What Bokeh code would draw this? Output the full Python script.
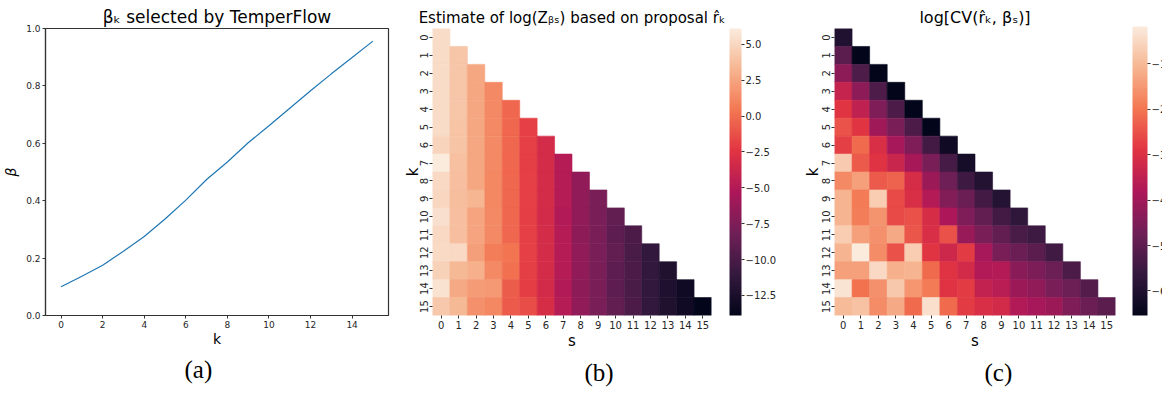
import math

from bokeh.embed import file_html
from bokeh.layouts import row
from bokeh.models import (AllLabels, ColorBar, ColumnDataSource,
                          CustomJSTickFormatter, FixedTicker,
                          LinearColorMapper, PrintfTickFormatter, Range1d,
                          Title)
from bokeh.plotting import figure
from bokeh.resources import INLINE

# ---------------------------------------------------------------- data
k_index = list(range(16))
beta_selected = [0.100, 0.137, 0.175, 0.224, 0.275, 0.336, 0.402, 0.474,
                 0.535, 0.602, 0.661, 0.722, 0.783, 0.842, 0.899, 0.956]

grid_ticks = list(range(16))

# log(Z_beta_s) estimated with proposal r_k  (row k, columns s = 0..k)
log_z_rows = [
    [5.3],
    [5.3, 4.1],
    [5.3, 4.1, 2.6],
    [5.3, 4.1, 2.6, 1.3],
    [5.3, 4.1, 2.6, 1.3, -0.3],
    [5.3, 4.0, 2.6, 1.3, -0.3, -1.9],
    [4.9, 4.0, 2.6, 1.3, -0.3, -1.9, -3.2],
    [6.1, 3.9, 2.6, 1.3, -0.3, -2.0, -3.2, -4.9],
    [5.1, 3.8, 2.6, 1.2, -0.3, -1.9, -3.2, -4.9, -6.7],
    [5.0, 3.7, 3.3, 1.2, -0.3, -1.9, -3.2, -4.9, -6.7, -7.7],
    [5.5, 3.8, 2.5, 1.3, -0.3, -2.0, -3.3, -5.0, -6.7, -7.8, -8.9],
    [5.1, 3.8, 2.5, 1.3, -0.3, -1.9, -3.2, -4.9, -6.8, -7.7, -9.0, -9.9],
    [5.2, 5.1, 2.2, 0.7, 0.3, -1.9, -3.2, -4.9, -6.7, -7.7, -8.9, -10.0, -11.1],
    [4.7, 3.5, 3.1, 1.3, 0.1, -2.0, -3.2, -4.9, -6.7, -7.8, -9.0, -9.9, -11.1, -12.2],
    [5.6, 2.7, 2.1, 2.0, -0.7, -2.1, -3.3, -5.0, -6.8, -7.8, -9.0, -10.0, -11.2, -12.3, -13.1],
    [4.3, 3.5, 1.6, 1.2, -0.8, -1.4, -3.1, -4.9, -6.7, -7.7, -8.9, -9.9, -11.1, -12.2, -13.1, -13.9],
]

# log CV(r_k, beta_s)  (row k, columns s = 0..k)
log_cv_rows = [
    [-5.97],
    [-5.03, -6.54],
    [-4.28, -5.23, -6.54],
    [-3.39, -4.28, -5.23, -6.54],
    [-2.91, -3.49, -4.51, -5.27, -6.54],
    [-2.47, -2.91, -4.01, -4.56, -5.27, -6.54],
    [-2.74, -2.16, -3.04, -3.93, -4.50, -5.41, -6.27],
    [-0.72, -2.38, -2.95, -3.32, -3.90, -4.57, -5.35, -6.18],
    [-1.71, -1.38, -2.38, -2.26, -3.13, -4.07, -4.77, -5.49, -5.96],
    [-1.09, -1.94, -0.68, -2.60, -3.04, -3.70, -4.45, -4.82, -5.41, -5.90],
    [-1.09, -1.91, -1.56, -2.60, -2.50, -3.10, -3.81, -4.51, -4.94, -5.41, -5.74],
    [-0.68, -1.38, -1.62, -1.26, -2.42, -3.06, -2.50, -4.11, -4.56, -4.94, -5.31, -5.50],
    [-1.09, -0.18, -1.68, -2.50, -0.68, -2.91, -3.27, -2.81, -3.93, -4.56, -4.82, -5.06, -5.45],
    [-1.38, -1.38, -0.48, -1.15, -1.09, -2.15, -2.95, -3.17, -3.74, -3.69, -4.33, -4.54, -4.80, -5.25],
    [-0.31, -2.06, -1.62, -0.76, -1.54, -1.92, -2.95, -2.81, -3.45, -3.63, -4.07, -4.23, -4.56, -4.80, -5.17],
    [-0.98, -0.86, -1.68, -1.26, -2.15, -0.38, -2.15, -2.81, -3.06, -3.17, -3.74, -3.93, -4.07, -4.50, -4.82, -5.06],
]

log_z_bar_ticks = [-12.5, -10.0, -7.5, -5.0, -2.5, 0.0, 2.5, 5.0]
log_cv_bar_ticks = [-6, -5, -4, -3, -2, -1]

# ---------------------------------------------------------------- style
FONT = "DejaVu Sans"
INK = "#262626"
ROCKET_STOPS = ["#03051a", "#35193e", "#701f57", "#ad1759",
                "#e13342", "#f37651", "#f6b48f", "#faebdd"]


def ramp(stops, n=256):
    rgb = [tuple(int(h[i:i + 2], 16) for i in (1, 3, 5)) for h in stops]
    seg = len(rgb) - 1
    out = []
    for i in range(n):
        t = i / (n - 1) * seg
        j = min(int(t), seg - 1)
        f = t - j
        c = [round(a + (b - a) * f) for a, b in zip(rgb[j], rgb[j + 1])]
        out.append("#%02x%02x%02x" % tuple(c))
    return out


ROCKET = ramp(ROCKET_STOPS)


def style_title(p, size):
    p.title.align = "center"
    p.title.text_font = FONT
    p.title.text_font_size = size
    p.title.text_font_style = "normal"
    p.title.text_color = "black"
    p.title.standoff = 3


def add_caption(p, text, offset):
    p.add_layout(Title(text=text, align="left", offset=offset,
                       text_font="Liberation Serif", text_font_size="25px",
                       text_font_style="normal", text_color="black",
                       standoff=9), "below")


# ---------------------------------------------------------------- (a)
pa = figure(width=400, height=396, x_range=Range1d(-0.75, 15.75),
            y_range=Range1d(0, 1), output_backend="svg", toolbar_location=None,
            min_border_left=44, min_border_right=12, min_border_top=24,
            min_border_bottom=81, title="βₖ selected by TemperFlow")
style_title(pa, "17px")
pa.line(k_index, beta_selected, line_color="#1f77b4", line_width=1.2)
pa.xaxis.ticker = FixedTicker(ticks=[0, 2, 4, 6, 8, 10, 12, 14])
pa.yaxis.ticker = FixedTicker(ticks=[0, 0.2, 0.4, 0.6, 0.8, 1.0])
pa.yaxis.formatter = PrintfTickFormatter(format="%.1f")
pa.xaxis.axis_label = "k"
pa.yaxis.axis_label = "β"
for ax in (pa.xaxis[0], pa.yaxis[0]):
    ax.axis_line_color = "#333333"
    ax.axis_line_width = 1.2
    ax.major_tick_line_color = "#333333"
    ax.major_tick_out = 3
    ax.major_tick_in = 0
    ax.minor_tick_line_color = None
    ax.major_label_text_font = FONT
    ax.major_label_text_font_size = "9px"
    ax.major_label_text_color = INK
    ax.major_label_standoff = 2
    ax.axis_label_text_font = FONT
    ax.axis_label_text_font_size = "14px"
    ax.axis_label_text_font_style = "normal"
    ax.axis_label_text_color = "black"
    ax.axis_label_standoff = 0
pa.yaxis.axis_label_text_font_style = "italic"
pa.yaxis.axis_label_standoff = 4
pa.grid.visible = False
pa.outline_line_color = "#333333"
pa.outline_line_width = 1.2
add_caption(pa, "(a)", 139)


# ---------------------------------------------------------------- heatmaps
def heatmap(rows, title, title_size, bar_ticks, digits, width, left, right,
            top, label_pull, bar_gap, bar_width, caption, caption_offset):
    s_col, k_col, v_col = [], [], []
    for k, vals in enumerate(rows):
        for s, v in enumerate(vals):
            s_col.append(s)
            k_col.append(k)
            v_col.append(v)
    src = ColumnDataSource(dict(s=s_col, k=k_col, v=v_col))
    mapper = LinearColorMapper(palette=ROCKET, low=min(v_col), high=max(v_col))

    p = figure(width=width, height=396, x_range=Range1d(-0.5, 15.5),
               y_range=Range1d(15.5, -0.5), output_backend="svg",
               toolbar_location=None, min_border_left=left,
               min_border_right=right, min_border_top=top,
               min_border_bottom=81, title=title)
    style_title(p, title_size)
    cmap = {"field": "v", "transform": mapper}
    p.rect(x="s", y="k", width=1, height=1, source=src,
           fill_color=cmap, line_color=cmap, line_width=0.6)

    p.xaxis.ticker = FixedTicker(ticks=grid_ticks)
    p.yaxis.ticker = FixedTicker(ticks=grid_ticks)
    p.yaxis.major_label_orientation = "vertical"
    p.xaxis.axis_label = "s"
    p.yaxis.axis_label = "k"
    for ax in (p.xaxis[0], p.yaxis[0]):
        ax.axis_line_color = None
        ax.major_tick_line_color = "#333333"
        ax.major_tick_out = 3
        ax.major_tick_in = 0
        ax.minor_tick_line_color = None
        ax.major_label_text_font = FONT
        ax.major_label_text_font_size = "10px"
        ax.major_label_text_color = INK
        ax.major_label_standoff = 2
        ax.axis_label_text_font = FONT
        ax.axis_label_text_font_size = "15px"
        ax.axis_label_text_font_style = "normal"
        ax.axis_label_text_color = "black"
        ax.axis_label_standoff = 0
    p.yaxis.axis_label_standoff = -label_pull
    p.grid.visible = False
    p.outline_line_color = None

    frame_w = width - left - right
    frame_h = 396 - top - 81
    fmt = "return tick.toFixed(%d).replace('-', '\\u2212');" % digits
    bar = ColorBar(color_mapper=mapper, location=(frame_w + bar_gap, 0),
                   width=bar_width, height=frame_h, padding=0, margin=0,
                   ticker=FixedTicker(ticks=bar_ticks),
                   formatter=CustomJSTickFormatter(code=fmt),
                   major_label_policy=AllLabels(),
                   major_tick_out=3, major_tick_in=0,
                   major_tick_line_color="#333333", label_standoff=1,
                   major_label_text_font=FONT,
                   major_label_text_font_size="10px",
                   major_label_text_color=INK,
                   bar_line_color=None, border_line_color=None,
                   background_fill_color=None)
    p.add_layout(bar)
    add_caption(p, caption, caption_offset)
    return p


pb = heatmap(log_z_rows, "Estimate of log(Zᵦₛ) based on proposal r̂ₖ", "15px",
             log_z_bar_ticks, 1, width=400, left=31, right=89, top=28,
             label_pull=5, bar_gap=17, bar_width=12,
             caption="(b)", caption_offset=152)
pc = heatmap(log_cv_rows, "log[CV(r̂ₖ, βₛ)]", "16px",
             log_cv_bar_ticks, 0, width=362, left=34, right=47, top=26,
             label_pull=3, bar_gap=17, bar_width=15,
             caption="(c)", caption_offset=150)

layout = row(pa, pb, pc, spacing=0)
with open("out.html", "w") as f:
    f.write(file_html(layout, INLINE))
